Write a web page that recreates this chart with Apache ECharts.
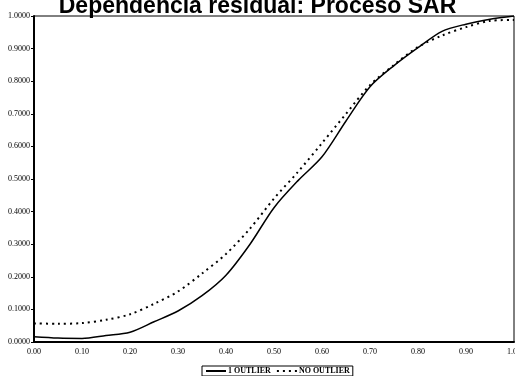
<!DOCTYPE html>
<html>
<head>
<meta charset="utf-8">
<script src="https://cdn.jsdelivr.net/npm/echarts@6/dist/echarts.min.js"></script>
<style>
  html, body { margin: 0; padding: 0; background: #fff; }
  #chart { width: 515px; height: 376px; }
</style>
</head>
<body>
<div id="chart"></div>
<script>
// Quantile levels on the x axis
const quantiles = [0.00, 0.05, 0.10, 0.15, 0.20, 0.25, 0.30, 0.35, 0.40, 0.45, 0.50,
                   0.55, 0.60, 0.65, 0.70, 0.75, 0.80, 0.85, 0.90, 0.95, 1.00];

// Empirical distribution with one outlier
const oneOutlier = [0.016, 0.012, 0.011, 0.020, 0.030, 0.062, 0.095, 0.142, 0.205, 0.300, 0.412,
                    0.495, 0.568, 0.678, 0.783, 0.848, 0.903, 0.953, 0.975, 0.990, 1.000];

// Empirical distribution without outliers
const noOutlier = [0.057, 0.056, 0.058, 0.068, 0.085, 0.117, 0.155, 0.210, 0.270, 0.348, 0.440,
                   0.522, 0.610, 0.700, 0.788, 0.850, 0.905, 0.940, 0.966, 0.985, 0.988];

const seriesNames = ['1 OUTLIER', 'NO OUTLIER'];
const chartTitle = 'Dependencia residual: Proceso SAR';

const pair = (xs, ys) => xs.map((x, i) => [x, ys[i]]);

const serif = '"Liberation Serif", "Times New Roman", serif';
const chart = echarts.init(document.getElementById('chart'), null, { renderer: 'canvas' });

chart.setOption({
  animation: false,
  backgroundColor: '#fff',
  title: {
    text: chartTitle,
    left: 'center',
    top: -10,
    textStyle: { fontFamily: '"Liberation Sans", Arial, sans-serif', fontWeight: 'bold', fontSize: 23, color: '#000' }
  },
  legend: {
    left: 202,
    bottom: 0,
    padding: [1, 3],
    itemGap: 5,
    itemWidth: 20,
    itemHeight: 8,
    borderColor: '#000',
    borderWidth: 1,
    itemStyle: { opacity: 0 },
    lineStyle: { inactiveColor: '#ccc' },
    textStyle: { fontFamily: serif, fontWeight: 'bold', fontSize: 8, color: '#000', padding: [0, 0, 0, -3] },
    data: seriesNames
  },
  grid: {
    left: 34, right: 1, top: 16, bottom: 34,
    outerBoundsMode: 'none',
    containLabel: false,
    show: true, borderColor: '#000', borderWidth: 1
  },
  xAxis: {
    type: 'value', min: 0, max: 1, interval: 0.1,
    axisLine: { lineStyle: { color: '#000', width: 2 } },
    axisTick: { show: false },
    splitLine: { show: false },
    axisLabel: { color: '#000', fontFamily: serif, fontSize: 8, margin: 6,
                 formatter: v => v.toFixed(2) }
  },
  yAxis: {
    type: 'value', min: 0, max: 1, interval: 0.1,
    axisLine: { show: true, lineStyle: { color: '#000', width: 2 } },
    axisTick: { show: true, length: 3, lineStyle: { color: '#000' } },
    splitLine: { show: false },
    axisLabel: { color: '#000', fontFamily: serif, fontSize: 8, margin: 4,
                 formatter: v => v.toFixed(4) }
  },
  series: [
    {
      name: seriesNames[0], type: 'line', smooth: 0.3, symbol: 'none',
      data: pair(quantiles, oneOutlier),
      lineStyle: { color: '#000', width: 1.5, type: 'solid' },
      itemStyle: { color: '#000' }
    },
    {
      name: seriesNames[1], type: 'line', smooth: 0.3, symbol: 'none',
      data: pair(quantiles, noOutlier),
      lineStyle: { color: '#000', width: 2, type: [2, 4] },
      itemStyle: { color: '#000' }
    }
  ]
});
</script>
</body>
</html>
